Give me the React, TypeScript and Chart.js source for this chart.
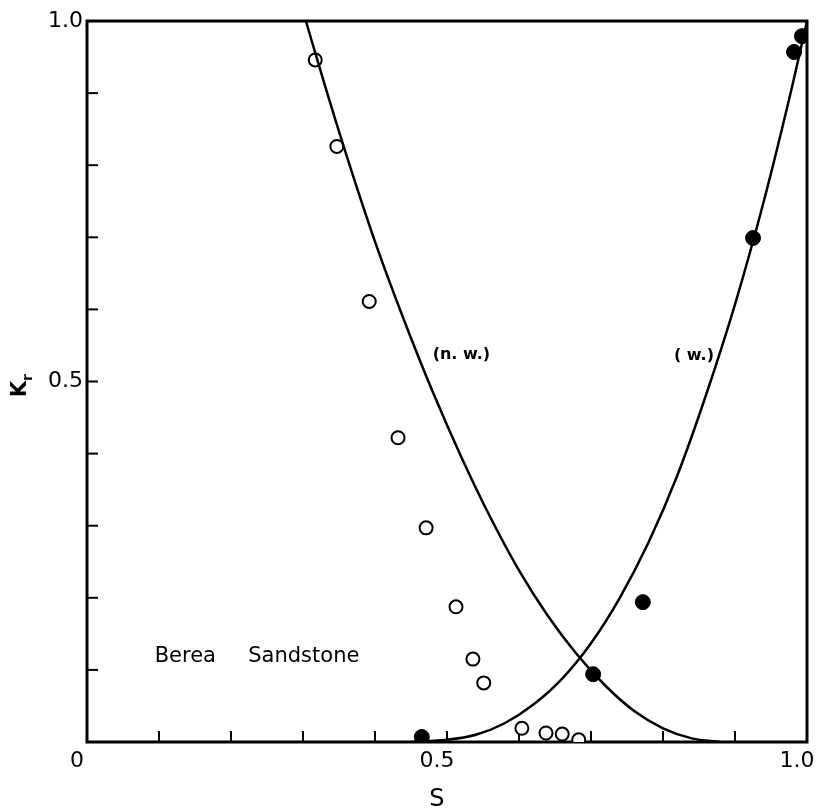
import React, { useEffect, useRef } from "react";
import { Chart, registerables } from "chart.js";

Chart.register(...registerables);

// Non-wetting phase relative permeability curve (n.w.)
const nwCurveS = [0.304, 0.33, 0.36, 0.40, 0.44, 0.48, 0.52, 0.56, 0.60, 0.64, 0.68, 0.72, 0.76, 0.80, 0.84, 0.88];
const nwCurveKr = [1.0, 0.912, 0.815, 0.694, 0.586, 0.486, 0.395, 0.312, 0.238, 0.175, 0.122, 0.078, 0.043, 0.019, 0.005, 0];

// Wetting phase relative permeability curve (w.)
const wCurveS = [0.45, 0.50, 0.54, 0.58, 0.62, 0.66, 0.70, 0.74, 0.78, 0.82, 0.86, 0.90, 0.94, 0.98, 1.0];
const wCurveKr = [0, 0.003, 0.01, 0.026, 0.052, 0.088, 0.137, 0.2, 0.277, 0.37, 0.482, 0.607, 0.75, 0.912, 1.0];

// Measured points: open circles (non-wetting)
const openS = [0.317, 0.347, 0.392, 0.432, 0.471, 0.5125, 0.536, 0.551, 0.604, 0.6375, 0.66, 0.683];
const openKr = [0.946, 0.826, 0.611, 0.422, 0.297, 0.1875, 0.115, 0.082, 0.019, 0.0125, 0.011, 0.003];

// Measured points: filled circles (wetting)
const filledS = [0.465, 0.703, 0.772, 0.925, 0.982, 0.993];
const filledKr = [0.007, 0.094, 0.194, 0.699, 0.957, 0.979];

// Tick labels
const xTickLabels: Record<string, string> = { "0": "0", "0.5": "0.5", "1": "1.0" };
const yTickLabels: Record<string, string> = { "0.5": "0.5", "1": "1.0" };

const FONT = "'DejaVu Sans', 'Liberation Sans', sans-serif";

const toPts = (xs: number[], ys: number[]) => xs.map((x, i) => ({ x, y: ys[i] }));
const keyOf = (v: number) => String(Math.round(v * 10) / 10);

const framePlugin = {
  id: "frame",
  beforeDatasetsDraw(chart: any) {
    const { ctx, chartArea: a, scales } = chart;
    ctx.save();
    ctx.strokeStyle = "#000";
    ctx.lineWidth = 2;
    const xs = scales.x;
    xs.ticks.forEach((t: any) => {
      const px = xs.getPixelForValue(t.value);
      if (px <= a.left + 2 || px >= a.right - 2) return;
      ctx.beginPath();
      ctx.moveTo(px, a.bottom);
      ctx.lineTo(px, a.bottom - 11);
      ctx.stroke();
    });
    const ys = scales.y;
    ys.ticks.forEach((t: any) => {
      const py = ys.getPixelForValue(t.value);
      if (py <= a.top + 2 || py >= a.bottom - 2) return;
      ctx.beginPath();
      ctx.moveTo(a.left, py);
      ctx.lineTo(a.left + 11, py);
      ctx.stroke();
    });
    ctx.lineWidth = 3;
    ctx.strokeRect(a.left, a.top, a.right - a.left, a.bottom - a.top);
    ctx.restore();
  },
  afterDraw(chart: any) {
    const { ctx, scales } = chart;
    const xs = scales.x;
    const ys = scales.y;
    ctx.save();
    ctx.fillStyle = "#000";
    ctx.textBaseline = "middle";
    ctx.font = `bold 16px ${FONT}`;
    ctx.textAlign = "center";
    ctx.fillText("(n. w.)", xs.getPixelForValue(0.52), ys.getPixelForValue(0.537));
    ctx.fillText("( w.)", xs.getPixelForValue(0.843), ys.getPixelForValue(0.535));
    ctx.font = `21px ${FONT}`;
    ctx.textAlign = "left";
    ctx.fillText("Berea", xs.getPixelForValue(0.094), ys.getPixelForValue(0.118));
    ctx.fillText("Sandstone", xs.getPixelForValue(0.224), ys.getPixelForValue(0.118));
    ctx.font = `24px ${FONT}`;
    ctx.textAlign = "center";
    ctx.fillText("S", xs.getPixelForValue(0.486), 800);
    ctx.translate(21, ys.getPixelForValue(0.495));
    ctx.rotate(-Math.PI / 2);
    ctx.font = `bold 21px ${FONT}`;
    const kw = ctx.measureText("K").width;
    ctx.textAlign = "left";
    ctx.fillText("K", -kw / 2 - 4, 0);
    ctx.font = `bold 14px ${FONT}`;
    ctx.fillText("r", kw / 2 - 4, 7);
    ctx.restore();
  },
};

export default function App() {
  const ref = useRef<HTMLCanvasElement | null>(null);

  useEffect(() => {
    if (!ref.current) return;
    const chart = new Chart(ref.current, {
      type: "scatter",
      data: {
        datasets: [
          {
            label: "n.w. curve",
            data: toPts(nwCurveS, nwCurveKr),
            showLine: true,
            borderColor: "#000",
            borderWidth: 2.5,
            pointRadius: 0,
            cubicInterpolationMode: "monotone",
          } as any,
          {
            label: "w. curve",
            data: toPts(wCurveS, wCurveKr),
            showLine: true,
            borderColor: "#000",
            borderWidth: 2.5,
            pointRadius: 0,
            cubicInterpolationMode: "monotone",
          } as any,
          {
            label: "n.w. data",
            data: toPts(openS, openKr),
            pointRadius: 6.5,
            pointBorderWidth: 2,
            borderColor: "#000",
            backgroundColor: "#fff",
          } as any,
          {
            label: "w. data",
            data: toPts(filledS, filledKr),
            pointRadius: 7.5,
            pointBorderWidth: 1,
            borderColor: "#000",
            backgroundColor: "#000",
          } as any,
        ],
      },
      options: {
        animation: false,
        responsive: false,
        maintainAspectRatio: false,
        layout: { padding: { top: 21, right: 10, left: 0, bottom: 0 } },
        plugins: {
          legend: { display: false },
          tooltip: { enabled: false },
        },
        scales: {
          x: {
            type: "linear",
            min: 0,
            max: 1,
            grid: { display: false, drawTicks: false },
            border: { display: false },
            ticks: {
              stepSize: 0.1,
              autoSkip: false,
              maxRotation: 0,
              padding: 6,
              labelOffset: -10,
              color: "#000",
              font: { family: FONT, size: 22 },
              callback: (v: any) => xTickLabels[keyOf(Number(v))] ?? "",
            },
            afterFit: (s: any) => {
              s.height = 70;
              s.paddingLeft = 0;
              s.paddingRight = 0;
            },
          },
          y: {
            type: "linear",
            min: 0,
            max: 1,
            grid: { display: false, drawTicks: false },
            border: { display: false },
            ticks: {
              stepSize: 0.1,
              autoSkip: false,
              padding: 4,
              color: "#000",
              font: { family: FONT, size: 22 },
              callback: (v: any) => yTickLabels[keyOf(Number(v))] ?? "",
            },
            afterFit: (s: any) => {
              s.width = 87;
              s.paddingTop = 0;
              s.paddingBottom = 0;
            },
          },
        },
      },
      plugins: [framePlugin],
    });
    return () => chart.destroy();
  }, []);

  return (
    <div style={{ position: "fixed", left: 0, top: 0, width: 817, height: 812, background: "#fff" }}>
      <canvas ref={ref} width={817} height={812} style={{ width: 817, height: 812, display: "block" }} />
    </div>
  );
}
